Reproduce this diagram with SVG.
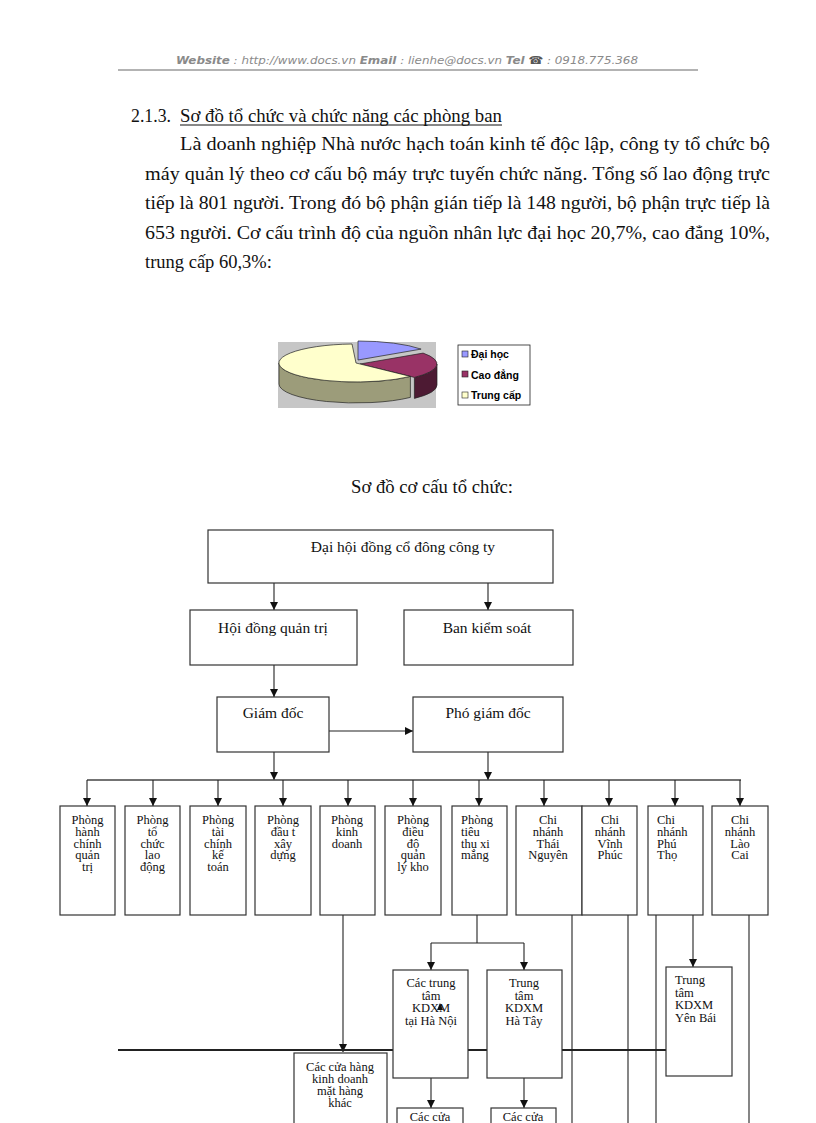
<svg xmlns="http://www.w3.org/2000/svg" width="816" height="1123" viewBox="0 0 816 1123">
<defs>
<style>
.hdr{font-family:"DejaVu Sans","Liberation Sans",sans-serif;font-size:11px;font-style:italic;fill:#8a8a8a}
.hb{font-weight:bold}
.body{font-family:"Liberation Serif","Times New Roman",serif;font-size:18.5px;fill:#111}
.box{fill:#fff;stroke:#333;stroke-width:1.2}
.t1{font-family:"Liberation Serif","Times New Roman",serif;font-size:15.5px;fill:#111;text-anchor:middle}
.t2{font-family:"Liberation Serif","Times New Roman",serif;font-size:12.5px;fill:#111;text-anchor:middle}
.t2l{font-family:"Liberation Serif","Times New Roman",serif;font-size:12.5px;fill:#111}
.ln{fill:none;stroke:#222;stroke-width:1.1}
.ar{fill:none;stroke:#222;stroke-width:1.1;marker-end:url(#ah)}
.leg{font-family:"Liberation Sans",Arial,sans-serif;font-size:10.5px;font-weight:bold;fill:#000}
</style>
<marker id="ah" markerUnits="userSpaceOnUse" markerWidth="9" markerHeight="9" refX="8" refY="4" orient="auto">
<path d="M0,0 L8,4 L0,8 Z" fill="#111"/>
</marker>
</defs>
<rect width="816" height="1123" fill="#fff"/>

<g id="header">
<text class="hdr" x="176" y="64" textLength="462" lengthAdjust="spacingAndGlyphs"><tspan class="hb">Website</tspan> : http://www.docs.vn  <tspan class="hb">Email</tspan>  : lienhe@docs.vn   <tspan class="hb">Tel</tspan> <tspan fill="#555">☎</tspan> : 0918.775.368</text>
<line x1="118" y1="70" x2="698" y2="70" stroke="#9a9a9a" stroke-width="1.5"/>
</g>

<g id="intro">
<text class="body" x="131" y="122" textLength="40" lengthAdjust="spacingAndGlyphs">2.1.3.</text>
<text class="body" x="180" y="122" textLength="322" lengthAdjust="spacingAndGlyphs">Sơ đồ tổ chức và chức năng các phòng ban</text>
<line x1="180" y1="125" x2="502" y2="125" stroke="#111" stroke-width="1"/>
<text class="body" x="180" y="150" textLength="590" lengthAdjust="spacingAndGlyphs">Là doanh nghiệp Nhà nước hạch toán kinh tế độc lập,  công  ty tổ chức bộ</text>
<text class="body" x="145" y="180" textLength="625" lengthAdjust="spacingAndGlyphs">máy  quản lý  theo  cơ cấu bộ máy trực tuyến  chức năng.  Tổng số lao  động trực</text>
<text class="body" x="145" y="209" textLength="625" lengthAdjust="spacingAndGlyphs">tiếp là 801 người.  Trong đó bộ phận gián tiếp là 148 người,  bộ phận trực tiếp là</text>
<text class="body" x="145" y="239" textLength="625" lengthAdjust="spacingAndGlyphs">653 người.  Cơ cấu trình độ của nguồn nhân lực đại học 20,7%, cao đẳng 10%,</text>
<text class="body" x="145" y="268">trung cấp 60,3%:</text>
</g>

<g id="pie-chart">
<rect x="278" y="342" width="158" height="66" fill="#c6c6c6"/>
<path d="M358,360 L358,341 A77 19 0 0 1 421.1,349.1 Z" fill="#9999ff" stroke="#222" stroke-width="0.7"/>
<path d="M437,364 A77 19 0 0 1 414.4,377.4 L414.4,398.4 A77 19 0 0 0 437,385 Z" fill="#4d1a33" stroke="#222" stroke-width="0.7"/>
<path d="M360,364 L423.1,353.1 A77 19 0 0 1 414.4,377.4 Z" fill="#993366" stroke="#222" stroke-width="0.7"/>
<path d="M410.4,376.4 A77 19 0 0 1 279,363 L279,384 A77 19 0 0 0 410.4,397.4 Z" fill="#9c9c7a" stroke="#222" stroke-width="0.7"/>
<path d="M356,363 L410.4,376.4 A77 19 0 1 1 352,344 Z" fill="#ffffcc" stroke="#222" stroke-width="0.7"/>
<rect x="458" y="345" width="72" height="60" fill="#fff" stroke="#222" stroke-width="0.8"/>
<rect x="462" y="351" width="6" height="6" fill="#9999ff" stroke="#222" stroke-width="0.6"/>
<rect x="462" y="371" width="6" height="6" fill="#993366" stroke="#222" stroke-width="0.6"/>
<rect x="462" y="392" width="6" height="6" fill="#ffffcc" stroke="#222" stroke-width="0.6"/>
<text class="leg" x="471" y="358">Đại học</text>
<text class="leg" x="471" y="379">Cao đẳng</text>
<text class="leg" x="471" y="399">Trung cấp</text>
</g>

<text class="body" x="351" y="493" textLength="162" lengthAdjust="spacingAndGlyphs">Sơ đồ cơ cấu tổ chức:</text>

<g id="connectors">
<line class="ar" x1="274" y1="583" x2="274" y2="610"/>
<line class="ar" x1="488" y1="583" x2="488" y2="610"/>
<line class="ar" x1="274" y1="665" x2="274" y2="697"/>
<line class="ar" x1="329" y1="731" x2="413" y2="731"/>
<line class="ar" x1="274" y1="752" x2="274" y2="780"/>
<line class="ar" x1="488" y1="752" x2="488" y2="780"/>
<line x1="87" y1="780" x2="741" y2="780" stroke="#444" stroke-width="1.6"/>
<line class="ar" x1="87" y1="780" x2="87" y2="806"/>
<line class="ar" x1="153" y1="780" x2="153" y2="806"/>
<line class="ar" x1="218" y1="780" x2="218" y2="806"/>
<line class="ar" x1="283" y1="780" x2="283" y2="806"/>
<line class="ar" x1="348" y1="780" x2="348" y2="806"/>
<line class="ar" x1="413" y1="780" x2="413" y2="806"/>
<line class="ar" x1="479" y1="780" x2="479" y2="806"/>
<line class="ar" x1="544" y1="780" x2="544" y2="806"/>
<line class="ar" x1="609" y1="780" x2="609" y2="806"/>
<line class="ar" x1="675" y1="780" x2="675" y2="806"/>
<line class="ar" x1="740" y1="780" x2="740" y2="806"/>
<line class="ar" x1="343" y1="915" x2="343" y2="1052"/>
<polyline class="ln" points="477,915 477,943"/>
<line class="ln" x1="431" y1="943" x2="524" y2="943"/>
<line class="ar" x1="431" y1="943" x2="431" y2="970"/>
<line class="ar" x1="524" y1="943" x2="524" y2="970"/>
<line class="ar" x1="431" y1="1078" x2="431" y2="1108"/>
<line class="ar" x1="524" y1="1078" x2="524" y2="1108"/>
<line class="ar" x1="693" y1="915" x2="693" y2="967"/>
<line class="ln" x1="572" y1="915" x2="572" y2="1123"/>
<line class="ln" x1="628" y1="915" x2="628" y2="1123"/>
<line class="ln" x1="656" y1="915" x2="656" y2="1123"/>
<line class="ln" x1="749" y1="915" x2="749" y2="1123"/>
<line x1="118" y1="1050" x2="666" y2="1050" stroke="#222" stroke-width="2"/>
</g>

<g id="n-daihoi"><rect class="box" x="208" y="530" width="345" height="53"/><text class="t1" x="403" y="552">Đại hội đồng cổ đông công ty</text></g>
<g id="n-hdqt"><rect class="box" x="190" y="610" width="167" height="55"/><text class="t1" x="273" y="633">Hội đồng quản trị</text></g>
<g id="n-bks"><rect class="box" x="404" y="610" width="169" height="55"/><text class="t1" x="487" y="633">Ban kiểm soát</text></g>
<g id="n-gd"><rect class="box" x="217" y="697" width="112" height="55"/><text class="t1" x="273" y="718">Giám đốc</text></g>
<g id="n-pgd"><rect class="box" x="413" y="697" width="150" height="55"/><text class="t1" x="488" y="718">Phó giám đốc</text></g>

<g id="n-p1"><rect class="box" x="60" y="806" width="55" height="109"/><text class="t2" y="824"><tspan x="87.5">Phòng</tspan><tspan x="87.5" dy="11.8">hành</tspan><tspan x="87.5" dy="11.8">chính</tspan><tspan x="87.5" dy="11.8">quản</tspan><tspan x="87.5" dy="11.8">trị</tspan></text></g>
<g id="n-p2"><rect class="box" x="125" y="806" width="55" height="109"/><text class="t2" y="824"><tspan x="152.5">Phòng</tspan><tspan x="152.5" dy="11.8">tổ</tspan><tspan x="152.5" dy="11.8">chức</tspan><tspan x="152.5" dy="11.8">lao</tspan><tspan x="152.5" dy="11.8">động</tspan></text></g>
<g id="n-p3"><rect class="box" x="190" y="806" width="56" height="109"/><text class="t2" y="824"><tspan x="218">Phòng</tspan><tspan x="218" dy="11.8">tài</tspan><tspan x="218" dy="11.8">chính</tspan><tspan x="218" dy="11.8">kế</tspan><tspan x="218" dy="11.8">toán</tspan></text></g>
<g id="n-p4"><rect class="box" x="255" y="806" width="56" height="109"/><text class="t2" y="824"><tspan x="283">Phòng</tspan><tspan x="283" dy="11.8">đầu t</tspan><tspan x="283" dy="11.8">xây</tspan><tspan x="283" dy="11.8">dựng</tspan></text></g>
<g id="n-p5"><rect class="box" x="320" y="806" width="55" height="109"/><text class="t2" y="824"><tspan x="347">Phòng</tspan><tspan x="347" dy="11.8">kinh</tspan><tspan x="347" dy="11.8">doanh</tspan></text></g>
<g id="n-p6"><rect class="box" x="385" y="806" width="56" height="109"/><text class="t2" y="824"><tspan x="413">Phòng</tspan><tspan x="413" dy="11.8">điều</tspan><tspan x="413" dy="11.8">độ</tspan><tspan x="413" dy="11.8">quản</tspan><tspan x="413" dy="11.8">lý kho</tspan></text></g>
<g id="n-p7"><rect class="box" x="452" y="806" width="55" height="109"/><text class="t2l" y="824"><tspan x="461">Phòng</tspan><tspan x="461" dy="11.8">tiêu</tspan><tspan x="461" dy="11.8">thụ xi</tspan><tspan x="461" dy="11.8">măng</tspan></text></g>
<g id="n-c1"><rect class="box" x="516" y="806" width="66" height="109"/><text class="t2" y="824"><tspan x="548">Chi</tspan><tspan x="548" dy="11.8">nhánh</tspan><tspan x="548" dy="11.8">Thái</tspan><tspan x="548" dy="11.8">Nguyên</tspan></text></g>
<g id="n-c2"><rect class="box" x="582" y="806" width="55" height="109"/><text class="t2" y="824"><tspan x="610">Chi</tspan><tspan x="610" dy="11.8">nhánh</tspan><tspan x="610" dy="11.8">Vĩnh</tspan><tspan x="610" dy="11.8">Phúc</tspan></text></g>
<g id="n-c3"><rect class="box" x="648" y="806" width="55" height="109"/><text class="t2l" y="824"><tspan x="657">Chi</tspan><tspan x="657" dy="11.8">nhánh</tspan><tspan x="657" dy="11.8">Phú</tspan><tspan x="657" dy="11.8">Thọ</tspan></text></g>
<g id="n-c4"><rect class="box" x="712" y="806" width="56" height="109"/><text class="t2" y="824"><tspan x="740">Chi</tspan><tspan x="740" dy="11.8">nhánh</tspan><tspan x="740" dy="11.8">Lào</tspan><tspan x="740" dy="11.8">Cai</tspan></text></g>

<g id="n-hanoi"><rect class="box" x="393" y="970" width="75" height="108"/><text class="t2" y="987"><tspan x="431">Các trung</tspan><tspan x="431" dy="12.5">tâm</tspan><tspan x="431" dy="12.5">KDXM</tspan><tspan x="431" dy="12.5">tại Hà Nội</tspan></text><polygon points="437,1010 440,1003 443,1010" fill="#111"/></g>
<g id="n-hatay"><rect class="box" x="487" y="970" width="75" height="108"/><text class="t2" y="987"><tspan x="524">Trung</tspan><tspan x="524" dy="12.5">tâm</tspan><tspan x="524" dy="12.5">KDXM</tspan><tspan x="524" dy="12.5">Hà Tây</tspan></text></g>
<g id="n-yenbai"><rect class="box" x="666" y="967" width="66" height="109"/><text class="t2l" y="984"><tspan x="675">Trung</tspan><tspan x="675" dy="12.5">tâm</tspan><tspan x="675" dy="12.5">KDXM</tspan><tspan x="675" dy="12.5">Yên Bái</tspan></text></g>
<g id="n-cuahang"><rect class="box" x="294" y="1053" width="93" height="80"/><text class="t2" y="1071"><tspan x="340">Các cửa hàng</tspan><tspan x="340" dy="12">kinh doanh</tspan><tspan x="340" dy="12">mặt hàng</tspan><tspan x="340" dy="12">khác</tspan></text></g>
<g id="n-cuahn"><rect class="box" x="397" y="1108" width="66" height="30"/><text class="t2" x="430" y="1121">Các cửa</text></g>
<g id="n-cuaht"><rect class="box" x="491" y="1108" width="65" height="30"/><text class="t2" x="523" y="1121">Các cửa</text></g>
</svg>
